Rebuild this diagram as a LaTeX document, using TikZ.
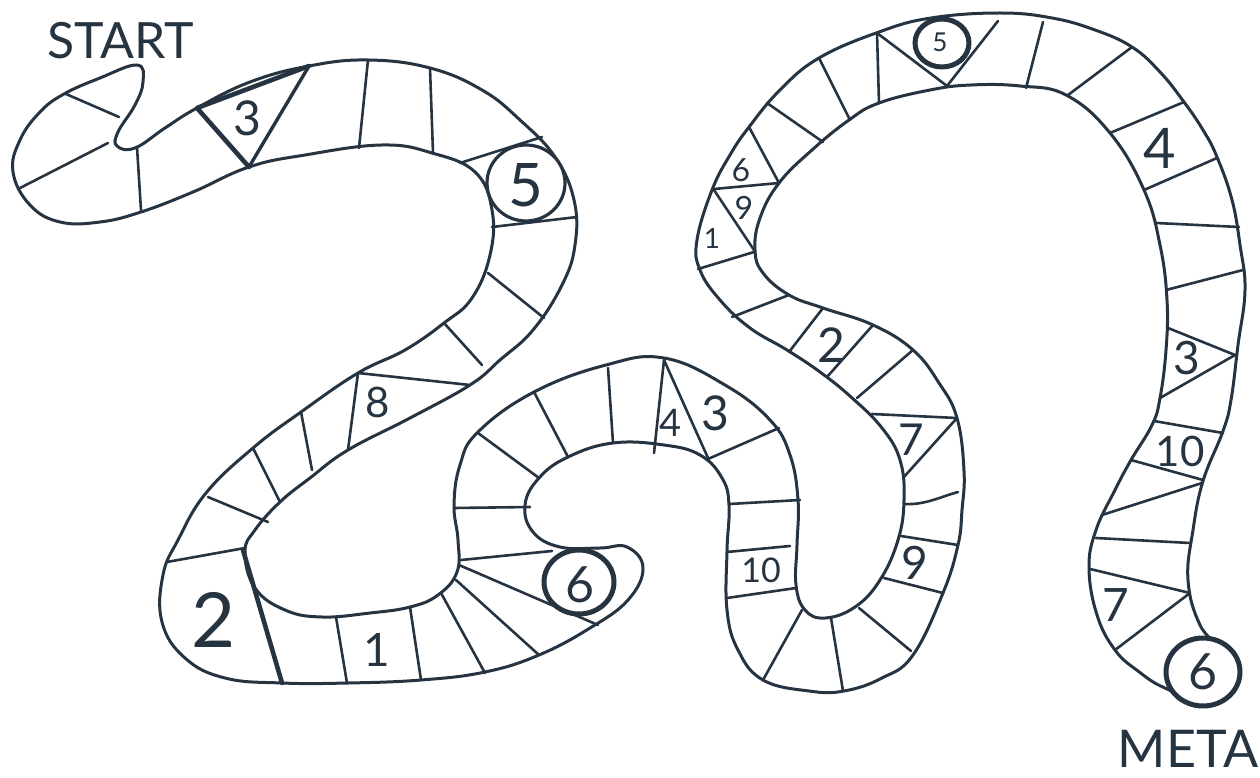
\documentclass[tikz,border=0pt]{standalone}
\usepackage{fontspec}
\setmainfont{Lato}
\usepackage{xcolor}
\usepackage{tikz}
\definecolor{pen}{HTML}{263442}
\newcommand{\sz}[1]{\fontsize{#1}{#1}\selectfont}

\begin{document}
\begin{tikzpicture}[
  x=1pt, y=-1pt,
  line join=round, line cap=round,
  track/.style={draw=pen, line width=3pt},
  divider/.style={draw=pen, line width=2.6pt},
  heavy/.style={draw=pen, line width=4.6pt},
  token/.style={draw=pen, fill=white, line width=5pt},
  num/.style={text=pen, inner sep=0pt}
]
\useasboundingbox (0,0) rectangle (1260,778);

% Track outline
\draw[track] plot[smooth cycle, tension=0.7] coordinates {
  (137,65) (143,82) (135,105) (118,132) (117,146) (135,148) (165,128) (197,108) (250,82)
  (309,66) (368,60) (430,68) (482,90) (520,120) (555,157) (574,200) (575,245) (562,285)
  (533,330) (500,360) (470,385) (410,418) (348,450) (310,478) (280,502) (255,530) (245,552)
  (255,588) (285,610) (322,617) (370,613) (410,607) (438,595) (457,572) (458,540) (454,505)
  (460,465) (478,432) (534,392) (606,365) (664,358) (725,385) (770,420) (790,455) (798,500)
  (797,545) (796,585) (805,610) (825,618) (855,607) (880,580) (898,540) (904,500) (900,460)
  (882,428) (851,397) (820,372) (787,350) (750,328) (720,300) (700,270) (697,240) (712,190)
  (730,155) (749,127) (780,90) (819,58) (879,32) (931,18) (1000,13) (1052,18) (1095,30)
  (1132,47) (1160,72) (1184,102) (1203,130) (1217,157) (1232,200) (1240,245) (1245,290)
  (1238,345) (1231,400) (1223,431) (1203,481) (1193,530) (1188,580) (1200,625) (1225,660)
  (1205,700) (1165,688) (1138,671) (1115,650) (1097,615) (1089,568) (1096,530) (1115,490)
  (1131,460) (1152,425) (1160,398) (1166,350) (1167,300) (1160,245) (1144,190) (1110,133)
  (1066,95) (1020,86) (971,85) (930,90) (879,103) (849,120) (812,150) (779,183) (760,218)
  (755,250) (763,273) (789,295) (823,308) (873,325) (913,350) (939,383) (957,418) (964,471)
  (962,510) (958,545) (943,593) (913,655) (882,678) (844,691) (809,691) (763,680) (738,650)
  (727,610) (727,551) (729,505) (722,478) (700,455) (664,445) (613,443) (568,457) (539,478)
  (525,505) (533,532) (560,547) (600,548) (627,547) (643,568) (628,600) (590,628) (539,655)
  (485,672) (421,680) (348,683) (282,683) (225,678) (185,658) (162,622) (163,575) (178,540)
  (206,493) (253,448) (301,412) (358,373) (405,350) (444,323) (472,298) (490,255) (492,210)
  (475,172) (432,153) (382,145) (305,155) (249,167) (193,192) (141,212) (100,222) (60,222)
  (30,205) (13,172) (20,140) (40,112) (64,94) (100,78)};

% Squares
\foreach \ax/\ay/\bx/\by in {
  66/94/119/117, 20/188/108/143, 137/147/141/210, 368/60/359/148,
  430/68/433/153, 542/137/460/163, 492/227/577/217, 488/273/544/318,
  444/323/482/365, 358/373/470/385, 358/373/348/450, 301/412/312/470,
  253/448/280/502, 208/497/268/522, 167/562/245/548, 336/617/347/683,
  410/607/421/680, 441/593/485/673, 456/580/539/655, 459/565/598/625,
  461/560/552/551, 454/508/530/507, 478/433/539/478, 534/392/568/457,
  608/368/613/443, 664/360/654/453, 664/360/708/458, 708/459/779/428,
  729/504/800/500, 727/552/790/546, 727/598/796/588, 802/610/763/680,
  831/618/843/691, 859/608/911/651, 884/578/943/593, 901/536/958/545,
  903/478/957/418, 872/414/957/418, 857/398/913/350, 827/377/873/325,
  789/352/823/308, 732/317/789/295, 698/269/754/252, 714/190/754/250,
  714/189/779/183, 749/127/779/183, 767/103/823/142, 819/58/850/120,
  877/33/879/103, 877/33/947/86, 998/21/947/86, 1043/22/1026/88,
  1132/47/1068/95, 1184/102/1110/133, 1217/158/1144/190, 1156/223/1239/227,
  1166/290/1243/270, 1168/328/1235/355, 1235/355/1160/398, 1154/421/1223/433,
  1131/460/1203/480, 1102/515/1202/483, 1096/538/1190/543, 1090/569/1190/593,
  1190/593/1115/650}
  \draw[divider] (\ax,\ay) -- (\bx,\by);
\draw[divider] (905,504) .. controls (925,505) and (940,497) .. (958,492);

% Heavy pen strokes
\draw[heavy] (243,550) -- (282,683);
\draw[heavy] (249,167) -- (197,108) -- (309,66);
\draw[divider, line width=3.4pt] (309,66) -- (249,167);

% Round tokens
\draw[track, fill=white, line width=3.2pt] (526,183) ellipse [x radius=39, y radius=38];
\draw[token] (942,43) ellipse [x radius=27, y radius=24];
\draw[token] (579,582) ellipse [x radius=35, y radius=32];
\draw[token] (1203,672) ellipse [x radius=37, y radius=34];

% Labels
\node[num, font=\sz{50}] (start) at (121,41) {START};
\node[num, font=\sz{52}] (meta) at (1188,749) {META};
\node[num, font=\sz{48}] (n3a) at (247,118) {3};
\node[num, font=\sz{60}] (n5a) at (526,185) {5};
\node[num, font=\sz{42}] (n8) at (378,402) {8};
\node[num, font=\sz{76}] (n2a) at (214,620) {2};
\node[num, font=\sz{46}] (n1a) at (377,650) {1};
\node[num, font=\sz{50}] (n6a) at (580,585) {6};
\node[num, font=\sz{38}] (n4a) at (671,423) {4};
\node[num, font=\sz{48}] (n3b) at (715,413) {3};
\node[num, font=\sz{34}] (n10a) at (761,570) {10};
\node[num, font=\sz{46}] (n9a) at (915,563) {9};
\node[num, font=\sz{44}] (n7a) at (911,440) {7};
\node[num, font=\sz{48}] (n2b) at (831,345) {2};
\node[num, font=\sz{46}] (n7b) at (1116,605) {7};
\node[num, font=\sz{42}] (n10b) at (1180,451) {10};
\node[num, font=\sz{46}] (n3c) at (1187,358) {3};
\node[num, font=\sz{56}] (n4b) at (1160,148) {4};
\node[num, font=\sz{32}] (n6b) at (741,170) {6};
\node[num, font=\sz{32}] (n9b) at (744,208) {9};
\node[num, font=\sz{28}] (n1b) at (712,238) {1};
\node[num, font=\sz{26}] (n5b) at (940,42) {5};
\node[num, font=\sz{50}] (n6c) at (1203,672) {6};
\end{tikzpicture}
\end{document}
